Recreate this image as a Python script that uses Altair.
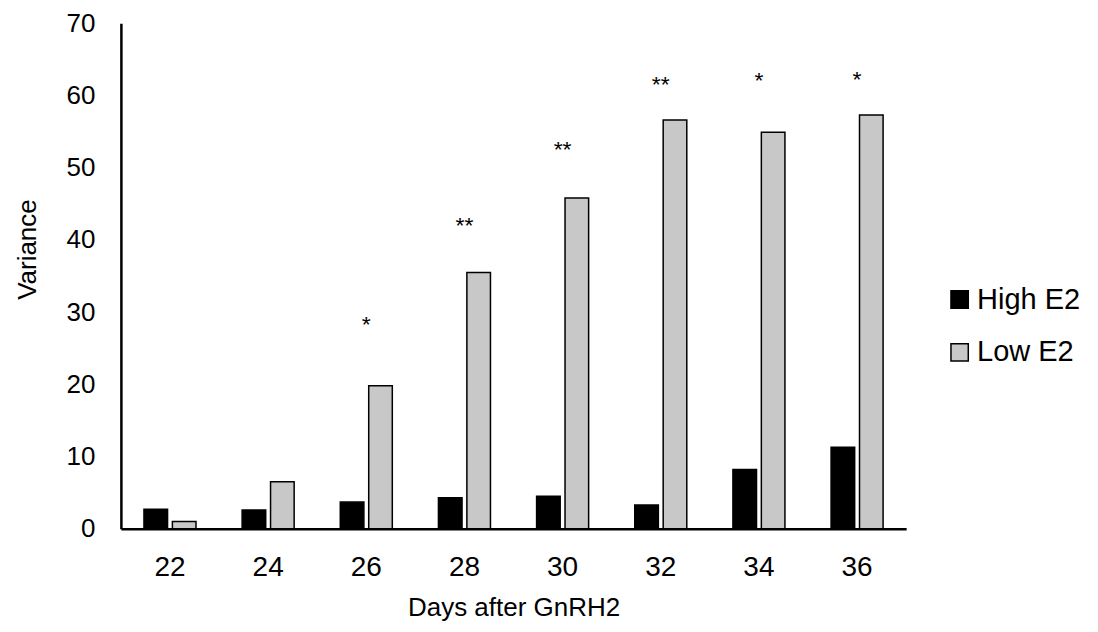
import altair as alt
import pandas as pd

days = ["22", "24", "26", "28", "30", "32", "34", "36"]
high_e2 = [2.7, 2.6, 3.7, 4.3, 4.5, 3.3, 8.2, 11.3]
low_e2 = [1.0, 6.5, 19.8, 35.5, 45.8, 56.6, 54.9, 57.3]
groups = ["High E2", "Low E2"]

star_days = ["26", "28", "30", "32", "34", "36"]
star_text = ["*", "**", "**", "**", "*", "*"]
star_y = [28.9, 42.6, 53.2, 62.1, 62.7, 62.9]

rows = []
for d, h, l in zip(days, high_e2, low_e2):
    rows.append({"day": d, "group": groups[0], "value": h})
    rows.append({"day": d, "group": groups[1], "value": l})
df = pd.DataFrame(rows)
stars = pd.DataFrame({"day": star_days, "label": star_text, "y": star_y})

FONT = "Liberation Sans"

x_enc = alt.X(
    "day:N",
    sort=days,
    scale=alt.Scale(paddingInner=0.47, paddingOuter=0.235),
    axis=alt.Axis(
        title="Days after GnRH2",
        labelAngle=0,
        ticks=False,
        labelPadding=25,
        labelFontSize=28,
        labelFont=FONT,
        labelColor="black",
        titleFontSize=26,
        titleFont=FONT,
        titleFontWeight="normal",
        titleColor="black",
        titleY=79,
        titleBaseline="middle",
        domainColor="black",
        domainWidth=2.5,
        grid=False,
    ),
)

bars = alt.Chart(df).mark_bar(stroke="black", strokeWidth=1.5).encode(
    x=x_enc,
    xOffset=alt.XOffset("group:N", sort=groups, scale=alt.Scale(paddingInner=0.17)),
    y=alt.Y(
        "value:Q",
        scale=alt.Scale(domain=[0, 70], nice=False),
        axis=alt.Axis(
            title="Variance",
            values=[0, 10, 20, 30, 40, 50, 60, 70],
            ticks=False,
            labelPadding=26,
            labelFontSize=26,
            labelFont=FONT,
            labelColor="black",
            labelBound=False,
            titleFontSize=26,
            titleFont=FONT,
            titleFontWeight="normal",
            titleColor="black",
            titleX=-93,
            titleY=226,
            titleBaseline="middle",
            domainColor="black",
            domainWidth=2.5,
            grid=False,
        ),
    ),
    color=alt.Color(
        "group:N",
        sort=groups,
        scale=alt.Scale(domain=groups, range=["#000000", "#c8c8c8"]),
        legend=alt.Legend(
            title=None,
            orient="none",
            legendX=825,
            legendY=262,
            symbolType="square",
            symbolSize=300,
            symbolStrokeColor="black",
            symbolStrokeWidth=1.5,
            labelFontSize=29,
            labelFont=FONT,
            labelColor="black",
            labelLimit=300,
            rowPadding=23,
            labelOffset=3,
        ),
    ),
)

text = alt.Chart(stars).mark_text(fontSize=23, font=FONT, color="black", baseline="middle", dy=5).encode(
    x=alt.X("day:N", sort=days),
    y=alt.Y("y:Q"),
    text="label:N",
)

chart = (
    alt.layer(bars, text)
    .properties(
        width=786,
        height=506,
        autosize=alt.AutoSizeParams(type="none"),
        padding={"left": 113, "top": 15, "right": 184, "bottom": 95},
    )
    .configure(background="white")
    .configure_view(strokeWidth=0, stroke="transparent")
)

chart.save("out.html", embed_options={"renderer": "svg", "actions": False})
